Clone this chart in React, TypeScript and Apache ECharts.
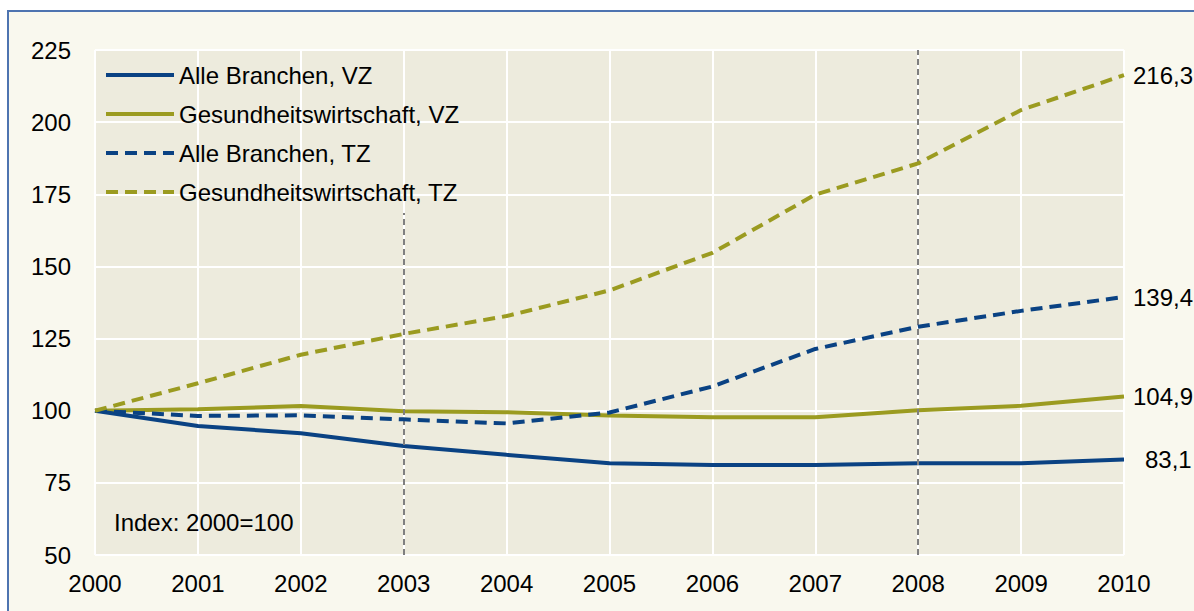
import React, { useEffect, useRef } from "react";
import * as echarts from "echarts";

const years = ["2000", "2001", "2002", "2003", "2004", "2005", "2006", "2007", "2008", "2009", "2010"];
const alleVZ = [100, 94.7, 92.2, 87.8, 84.7, 81.8, 81.2, 81.2, 81.8, 81.8, 83.1];
const gesundVZ = [100, 100.5, 101.6, 99.8, 99.5, 98.3, 97.7, 97.7, 100.2, 101.7, 104.9];
const alleTZ = [100, 98.2, 98.4, 97.0, 95.6, 99.4, 108.4, 121.4, 129.1, 134.6, 139.4];
const gesundTZ = [100, 109.5, 119.4, 126.6, 132.8, 141.7, 154.7, 174.9, 185.7, 204.2, 216.3];
const seriesNames = ["Alle Branchen, VZ", "Gesundheitswirtschaft, VZ", "Alle Branchen, TZ", "Gesundheitswirtschaft, TZ"];
const markYears = ["2003", "2008"];
const markTops = [168.5, 225];
const yMin = 50;
const yMax = 225;
const yStep = 25;
const noteText = "Index: 2000=100";

const NAVY = "#0A4283";
const OLIVE = "#9B9B20";
const FONT = "'Liberation Sans', Arial, sans-serif";
const FS = 24;

export default function App() {
  const ref = useRef<HTMLDivElement>(null);
  useEffect(() => {
    if (!ref.current) return;
    const chart = echarts.init(ref.current, undefined, { renderer: "svg" });
    const fmt = (p: any) => {
      const v = Array.isArray(p.value) ? p.value[1] : p.value;
      return Number(v).toFixed(1).replace(".", ",");
    };
    const mkSeries = (name: string, data: number[], color: string, dashed: boolean, labelDist: number, extra: any = {}) => ({
      name,
      type: "line",
      data,
      symbol: "none",
      lineStyle: { color, width: 4, type: dashed ? [12, 7] : "solid" },
      itemStyle: { color },
      endLabel: {
        show: true,
        formatter: fmt,
        distance: labelDist,
        color: "#000",
        fontSize: FS,
        fontFamily: FONT,
      },
      ...extra,
    });
    chart.setOption({
      animation: false,
      textStyle: { fontFamily: FONT },
      grid: {
        left: 95,
        right: 70,
        top: 50,
        bottom: 56,
        show: true,
        backgroundColor: "#EDEBDD",
        borderWidth: 0,
      },
      legend: {
        orient: "vertical",
        left: 104,
        top: 63,
        padding: 0,
        itemWidth: 68,
        itemHeight: 14,
        itemGap: 15,
        data: seriesNames,
        itemStyle: { opacity: 0, borderWidth: 0 },
        lineStyle: { width: 4 },
        textStyle: { color: "#000", fontSize: FS, fontFamily: FONT, lineHeight: 24 },
      },
      xAxis: {
        type: "category",
        data: years,
        boundaryGap: false,
        axisLine: { show: false },
        axisTick: { show: false },
        axisLabel: { color: "#000", fontSize: FS, margin: 16, fontFamily: FONT },
        splitLine: { show: true, lineStyle: { color: "#FFFFFF", width: 2 } },
      },
      yAxis: {
        type: "value",
        min: yMin,
        max: yMax,
        interval: yStep,
        axisLine: { show: false },
        axisTick: { show: false },
        axisLabel: { color: "#000", fontSize: FS, margin: 24, fontFamily: FONT },
        splitLine: { show: true, lineStyle: { color: "#FFFFFF", width: 2 } },
      },
      graphic: [
        {
          type: "text",
          left: 114,
          top: 510,
          z: 100,
          style: { text: noteText, fill: "#000", fontSize: FS, fontFamily: FONT },
        },
      ],
      series: [
        mkSeries(seriesNames[0], alleVZ, NAVY, false, 21, {
          z: 4,
          markLine: {
            silent: true,
            symbol: "none",
            label: { show: false },
            lineStyle: { color: "#7F7F7F", width: 2, type: [6, 4] },
            data: markYears.map((y, i) => [
              { coord: [y, yMin] },
              { coord: [y, markTops[i]] },
            ]),
          },
        }),
        mkSeries(seriesNames[1], gesundVZ, OLIVE, false, 9, { z: 3 }),
        mkSeries(seriesNames[2], alleTZ, NAVY, true, 9, { z: 5 }),
        mkSeries(seriesNames[3], gesundTZ, OLIVE, true, 9, { z: 6 }),
      ],
    });
    return () => chart.dispose();
  }, []);

  return (
    <div style={{ position: "absolute", left: 0, top: 0, width: 1194, height: 611, background: "#FFFFFF", overflow: "hidden" }}>
      <div
        style={{
          position: "absolute",
          left: 7,
          top: 10,
          width: 1300,
          height: 700,
          border: "2px solid #4E74B0",
          background: "#F9F8EE",
        }}
      />
      <div ref={ref} style={{ position: "absolute", left: 0, top: 0, width: 1194, height: 611 }} />
    </div>
  );
}
